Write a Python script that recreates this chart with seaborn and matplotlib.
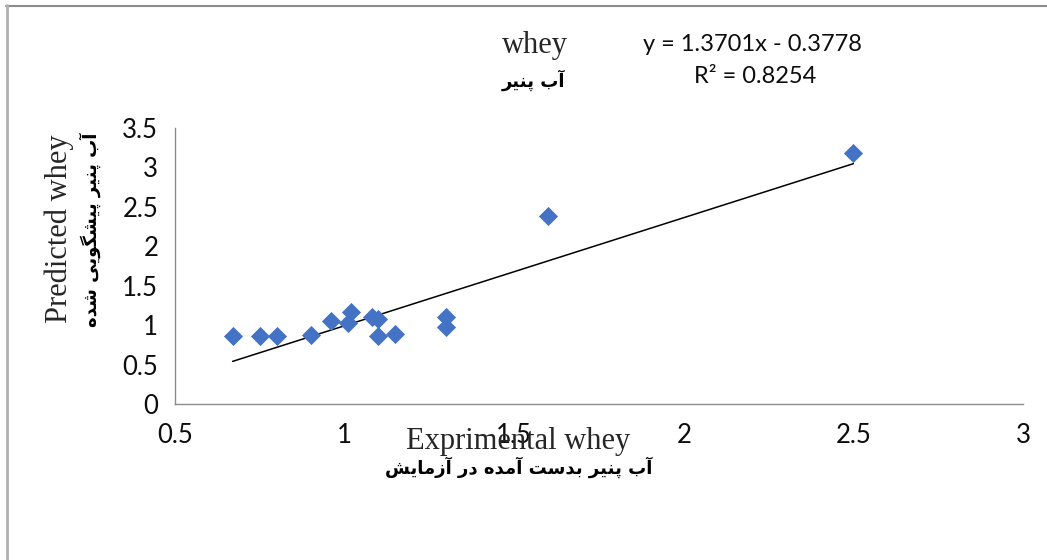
import matplotlib
matplotlib.use('Agg')
import matplotlib.pyplot as plt
from matplotlib.lines import Line2D
import seaborn as sns
import pandas as pd

# values
experimental = [0.67, 0.75, 0.80, 0.90, 0.96, 1.02, 1.01, 1.08, 1.10, 1.10, 1.15, 1.30, 1.30, 1.60, 2.50]
predicted = [0.86, 0.86, 0.86, 0.88, 1.05, 1.17, 1.03, 1.10, 1.08, 0.86, 0.89, 1.10, 0.97, 2.38, 3.18]
slope = 1.3701
intercept = -0.3778
r_squared = 0.8254
x_ticks = [0.5, 1, 1.5, 2, 2.5, 3]
y_ticks = [0, 0.5, 1, 1.5, 2, 2.5, 3, 3.5]

title_en = 'whey'
title_fa = 'آب پنیر'
xlabel_en = 'Exprimental whey'
xlabel_fa = 'آب پنیر بدست آمده در آزمایش'
ylabel_en = 'Predicted whey'
ylabel_fa = 'آب پنیر پیشگویی شده'

# matplotlib has no arabic shaping, so pick presentation forms by hand
# (isolated, final, initial, medial)
FORMS = {
    'ا': ('\uFE8D', '\uFE8E', None, None),
    'آ': ('\uFE81', '\uFE82', None, None),
    'ب': ('\uFE8F', '\uFE90', '\uFE91', '\uFE92'),
    'پ': ('\uFB56', '\uFB57', '\uFB58', '\uFB59'),
    'ت': ('\uFE95', '\uFE96', '\uFE97', '\uFE98'),
    'د': ('\uFEA9', '\uFEAA', None, None),
    'ر': ('\uFEAD', '\uFEAE', None, None),
    'ز': ('\uFEAF', '\uFEB0', None, None),
    'س': ('\uFEB1', '\uFEB2', '\uFEB3', '\uFEB4'),
    'ش': ('\uFEB5', '\uFEB6', '\uFEB7', '\uFEB8'),
    'گ': ('\uFB92', '\uFB93', '\uFB94', '\uFB95'),
    'م': ('\uFEE1', '\uFEE2', '\uFEE3', '\uFEE4'),
    'ن': ('\uFEE5', '\uFEE6', '\uFEE7', '\uFEE8'),
    'ه': ('\uFEE9', '\uFEEA', '\uFEEB', '\uFEEC'),
    'و': ('\uFEED', '\uFEEE', None, None),
    'ی': ('\uFBFC', '\uFBFD', '\uFBFE', '\uFBFF'),
}


def shape_fa(text):
    out = []
    for i, ch in enumerate(text):
        if ch not in FORMS:
            out.append(ch)
            continue
        prev = text[i - 1] if i > 0 else ''
        nxt = text[i + 1] if i + 1 < len(text) else ''
        join_prev = prev in FORMS and FORMS[prev][2] is not None
        join_next = nxt in FORMS and FORMS[ch][2] is not None
        iso, fin, ini, med = FORMS[ch]
        if join_prev and join_next:
            out.append(med)
        elif join_prev:
            out.append(fin)
        elif join_next:
            out.append(ini)
        else:
            out.append(iso)
    return ''.join(out)[::-1]


df = pd.DataFrame({'experimental': experimental, 'predicted': predicted})

sns.set_style('white')
plt.rcParams['font.family'] = ['Lato', 'DejaVu Sans']

fig = plt.figure(figsize=(10.47, 5.6), dpi=100)
ax = fig.add_axes([0.1671, 0.2786, 0.81, 0.4929])

sns.scatterplot(data=df, x='experimental', y='predicted', marker='D', s=95,
                color='#4472C4', linewidth=0, ax=ax, zorder=3)

# linear trend line over the data range
x_min, x_max = min(experimental), max(experimental)
ax.plot([x_min, x_max], [slope * x_min + intercept, slope * x_max + intercept],
        color='black', linewidth=1.1, zorder=2)

ax.set_xlim(0.5, 3)
ax.set_ylim(0, 3.5)
ax.set_xticks(x_ticks)
ax.set_yticks(y_ticks)
ax.set_xticklabels([f'{v:g}' for v in x_ticks])
ax.set_yticklabels([f'{v:g}' for v in y_ticks])
ax.set_xlabel('')
ax.set_ylabel('')

for side in ['top', 'right']:
    ax.spines[side].set_visible(False)
for side in ['left', 'bottom']:
    ax.spines[side].set_color('#8c8c8c')
    ax.spines[side].set_linewidth(1.0)
ax.tick_params(axis='both', direction='out', length=6, width=1.0, color='#8c8c8c',
               labelsize=18.5, labelcolor='#0d0d0d')
ax.tick_params(axis='x', pad=8)
ax.tick_params(axis='y', pad=6)
ax.grid(False)

serif = ['Liberation Serif', 'DejaVu Serif']
bold_fa = dict(family=['DejaVu Sans'], fontweight='bold', color='black')

fig.text(0.511, 0.918, title_en, ha='center', va='center', fontsize=22, family=serif)
fig.text(0.510, 0.857, shape_fa(title_fa), ha='center', va='center', fontsize=13, **bold_fa)

fig.text(0.719, 0.921, f'y = {slope:.4f}x - {abs(intercept):.4f}', ha='center', va='center',
         fontsize=17, color='#0d0d0d')
fig.text(0.721, 0.864, f'R² = {r_squared:.4f}', ha='center', va='center',
         fontsize=17, color='#0d0d0d')

fig.text(0.495, 0.212, xlabel_en, ha='center', va='center', fontsize=22, family=serif)
fig.text(0.495, 0.165, shape_fa(xlabel_fa), ha='center', va='center', fontsize=13, **bold_fa)

fig.text(0.057, 0.592, ylabel_en, ha='center', va='center', rotation=90, fontsize=22, family=serif)
fig.text(0.086, 0.590, shape_fa(ylabel_fa), ha='center', va='center', rotation=90, fontsize=13, **bold_fa)

# chart area border (cut off at right and bottom)
fig.add_artist(Line2D([6 / 1047, 1.0], [1 - 5.5 / 560] * 2, color='#8c8c8c', linewidth=1.5,
                      transform=fig.transFigure))
fig.add_artist(Line2D([7 / 1047] * 2, [0.0, 1 - 5 / 560], color='#b0b0b0', linewidth=2,
                      transform=fig.transFigure))

fig.savefig('out.png', dpi=100)
